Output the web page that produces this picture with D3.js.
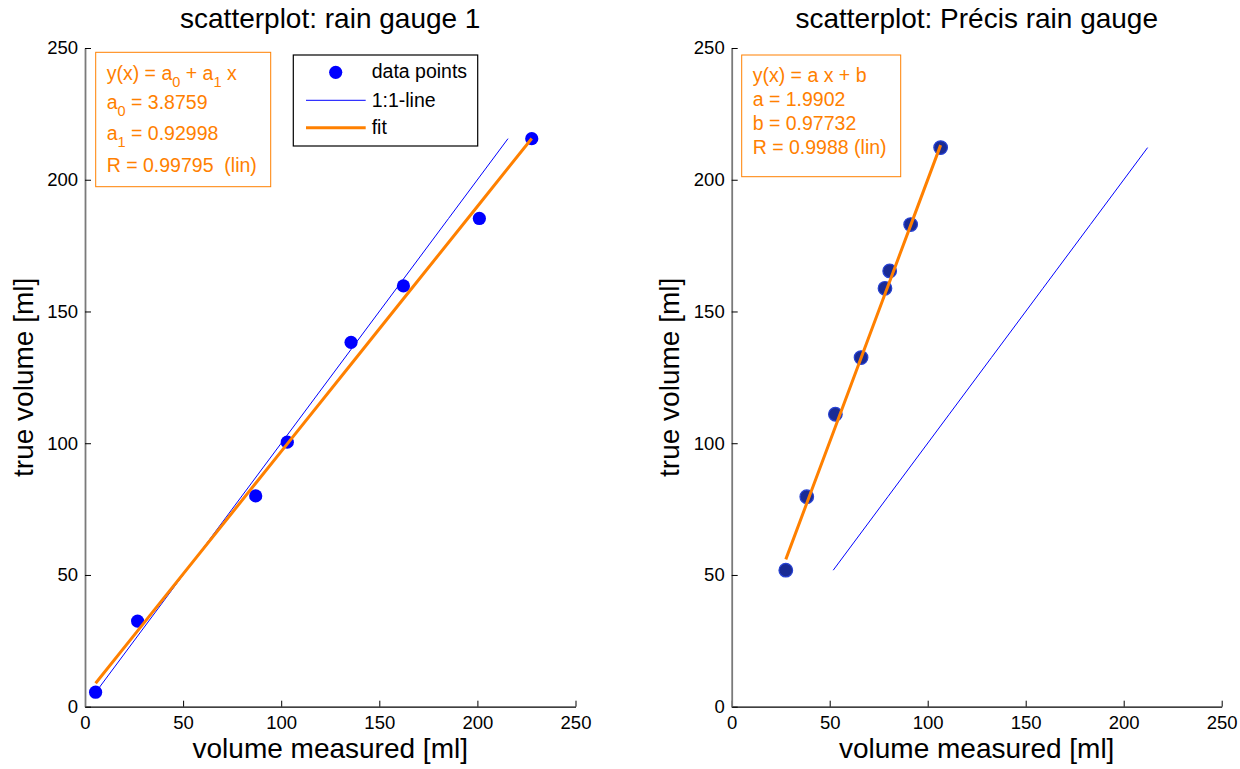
<!DOCTYPE html>
<html>
<head>
<meta charset="utf-8">
<script src="https://cdn.jsdelivr.net/npm/d3@7"></script>
<style>
  html, body { margin: 0; padding: 0; background: #fff; }
  svg { display: block; font-family: "Liberation Sans", Arial, Helvetica, sans-serif; }
</style>
</head>
<body>
<svg id="chart" width="1240" height="769"></svg>
<script>
// Rain gauge 1: measured vs. true volume [ml]
const gauge1Measured = [5.4, 26.8, 87.0, 103.1, 135.6, 162.3, 201.0, 227.7];
const gauge1True     = [5.5, 32.5, 80.0, 100.4, 138.3, 159.7, 185.3, 215.6];
// linear fit y = a0 + a1 x and correlation
const gauge1Coef = [3.8759, 0.92998];
const gauge1R = 0.99795;

// Précis rain gauge: measured vs. true volume [ml]
const precisMeasured = [27.6, 38.3, 52.9, 66.0, 78.2, 80.6, 91.3, 106.6];
const precisTrue     = [51.8, 79.7, 111.0, 132.5, 158.8, 165.4, 183.0, 212.2];
// linear fit y = a x + b and correlation
const precisCoef = [1.9902, 0.97732];
const precisR = 0.9988;

const xTicks = [0, 50, 100, 150, 200, 250];
const yTicks = [0, 50, 100, 150, 200, 250];
const axisDomain = [0, 250];

const svg = d3.select("#chart");
const ORANGE = "#ff8000";
const plotTop = 48, plotBottom = 706.7;

const panels = [
  {
    left: 85, right: 575.5,
    title: "scatterplot: rain gauge 1",
    xs: gauge1Measured, ys: gauge1True,
    fit: x => gauge1Coef[0] + gauge1Coef[1] * x,
    dot: { fill: "#0000ff", stroke: "none", r: 6.6 },
    box: { x: 95.7, y: 52.3, w: 175, h: 134.4, tx: 106.7, baselines: [80, 108.5, 140, 172] },
    lines: [
      [["y(x) = a"], ["0", true], [" + a"], ["1", true], [" x"]],
      [["a"], ["0", true], [" = " + gauge1Coef[0]]],
      [["a"], ["1", true], [" = " + gauge1Coef[1]]],
      [["R = " + gauge1R + "\u00a0 (lin)"]]
    ],
    legend: true
  },
  {
    left: 731.7, right: 1221.7,
    title: "scatterplot: Précis rain gauge",
    xs: precisMeasured, ys: precisTrue,
    fit: x => precisCoef[0] * x + precisCoef[1],
    dot: { fill: "#1a2b95", stroke: "#2742d4", r: 6.8 },
    box: { x: 741.7, y: 55, w: 159, h: 121.7, tx: 752.7, baselines: [82, 106, 130, 154] },
    lines: [
      [["y(x) = a x + b"]],
      [["a = " + precisCoef[0]]],
      [["b = " + precisCoef[1]]],
      [["R = " + precisR + " (lin)"]]
    ],
    legend: false
  }
];

panels.forEach(p => {
  const x = d3.scaleLinear().domain(axisDomain).range([p.left, p.right]);
  const y = d3.scaleLinear().domain(axisDomain).range([plotBottom, plotTop]);
  const g = svg.append("g");

  // axes: ticks point inward, left spine drawn in gray
  const xAxis = g.append("g")
    .attr("transform", `translate(0,${plotBottom})`)
    .call(d3.axisBottom(x).tickValues(xTicks).tickSizeInner(-6).tickSizeOuter(0).tickPadding(9));
  xAxis.selectAll("text").attr("font-size", 18.5).attr("fill", "#000")
    .attr("font-family", "Liberation Sans, Arial, sans-serif");
  xAxis.select(".domain").attr("stroke", "#000").attr("stroke-width", 1.3);
  xAxis.selectAll(".tick line").attr("stroke", "#000");

  const yAxis = g.append("g")
    .attr("transform", `translate(${p.left},0)`)
    .call(d3.axisLeft(y).tickValues(yTicks).tickSizeInner(-6).tickSizeOuter(0).tickPadding(7));
  yAxis.selectAll("text").attr("font-size", 18.5).attr("fill", "#000")
    .attr("font-family", "Liberation Sans, Arial, sans-serif");
  yAxis.select(".domain").attr("stroke", "#7a7a7a").attr("stroke-width", 1.8);
  yAxis.selectAll(".tick line").attr("stroke", "#000");

  // title and axis labels
  const cx = (p.left + p.right) / 2;
  g.append("text").attr("x", cx).attr("y", 28).attr("text-anchor", "middle")
    .attr("font-size", 28).text(p.title);
  g.append("text").attr("x", cx).attr("y", 758).attr("text-anchor", "middle")
    .attr("font-size", 28).text("volume measured [ml]");
  g.append("text")
    .attr("transform", `translate(${p.left - 52.3},${(plotTop + plotBottom) / 2}) rotate(-90)`)
    .attr("text-anchor", "middle").attr("font-size", 28).text("true volume [ml]");

  // data points
  const pts = p.xs.map((v, i) => [v, p.ys[i]]);
  g.append("g").selectAll("circle").data(pts).join("circle")
    .attr("cx", d => x(d[0])).attr("cy", d => y(d[1])).attr("r", p.dot.r)
    .attr("fill", p.dot.fill).attr("stroke", p.dot.stroke).attr("stroke-width", 1.2);

  // 1:1 line over the range of true volumes
  const oneToOne = p.ys.slice().sort((a, b) => a - b).map(v => [v, v]);
  const line = d3.line().x(d => x(d[0])).y(d => y(d[1]));
  g.append("path").attr("d", line(oneToOne))
    .attr("fill", "none").attr("stroke", "#0000ff").attr("stroke-width", 1);

  // fitted line over the range of measured volumes
  const fitPts = p.xs.slice().sort((a, b) => a - b).map(v => [v, p.fit(v)]);
  g.append("path").attr("d", line(fitPts))
    .attr("fill", "none").attr("stroke", ORANGE).attr("stroke-width", 3);

  // fit annotation box
  g.append("rect").attr("x", p.box.x).attr("y", p.box.y)
    .attr("width", p.box.w).attr("height", p.box.h)
    .attr("fill", "#fff").attr("stroke", ORANGE).attr("stroke-width", 1);
  p.lines.forEach((parts, i) => {
    const t = g.append("text").attr("x", p.box.tx).attr("y", p.box.baselines[i])
      .attr("font-size", 19.5).attr("fill", ORANGE);
    let shifted = false;
    parts.forEach(([txt, sub]) => {
      const span = t.append("tspan").text(txt);
      if (sub && !shifted) { span.attr("dy", 7).attr("font-size", 14.5); shifted = true; }
      else if (!sub && shifted) { span.attr("dy", -7); shifted = false; }
      else if (sub) { span.attr("font-size", 14.5); }
    });
  });

  // legend
  if (p.legend) {
    const lg = g.append("g");
    lg.append("rect").attr("x", 293.3).attr("y", 55).attr("width", 184.4).attr("height", 91)
      .attr("fill", "#fff").attr("stroke", "#000").attr("stroke-width", 1.2);
    lg.append("circle").attr("cx", 335.7).attr("cy", 72.3).attr("r", 6.6).attr("fill", "#0000ff");
    lg.append("line").attr("x1", 306).attr("x2", 365.7).attr("y1", 100.3).attr("y2", 100.3)
      .attr("stroke", "#0000ff").attr("stroke-width", 1);
    lg.append("line").attr("x1", 306).attr("x2", 365.7).attr("y1", 127.7).attr("y2", 127.7)
      .attr("stroke", ORANGE).attr("stroke-width", 3);
    [["data points", 78.3], ["1:1-line", 106.7], ["fit", 134.3]].forEach(([s, by]) => {
      lg.append("text").attr("x", 371.7).attr("y", by).attr("font-size", 19.5).text(s);
    });
  }
});
</script>
</body>
</html>
